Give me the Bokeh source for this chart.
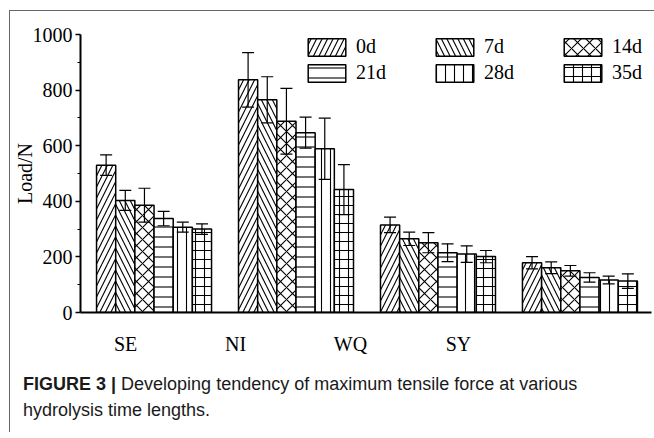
from bokeh.plotting import figure
from bokeh.layouts import column
from bokeh.models import (Range1d, FixedTicker, Whisker, ColumnDataSource, Legend,
                          LegendItem, TeeHead, CustomJSTickFormatter, Div)
from bokeh.embed import file_html
from bokeh.resources import INLINE

groups = ["SE", "NI", "WQ", "SY"]
series = ["0d", "7d", "14d", "21d", "28d", "35d"]

load_0d = [530, 837, 315, 179]
load_7d = [403, 765, 265, 161]
load_14d = [386, 688, 251, 150]
load_21d = [338, 647, 215, 126]
load_28d = [307, 589, 210, 117]
load_35d = [300, 442, 201, 113]

err_0d = [37, 98, 28, 22]
err_7d = [36, 83, 24, 21]
err_14d = [61, 118, 36, 19]
err_21d = [26, 56, 32, 17]
err_28d = [18, 110, 30, 14]
err_35d = [19, 90, 22, 26]

# positions of the category labels on the axis (as drawn in the original)
label_pos = [-0.20, 0.574, 1.384, 2.144]
y_ticks = [0, 200, 400, 600, 800, 1000]
y_minor = [100, 300, 500, 700, 900]

caption_bold = "FIGURE 3 |"
caption_line1 = "Developing tendency of maximum tensile force at various"
caption_line2 = "hydrolysis time lengths."

loads = [load_0d, load_7d, load_14d, load_21d, load_28d, load_35d]
errs = [err_0d, err_7d, err_14d, err_21d, err_28d, err_35d]
patterns = ["right_diagonal_line", "left_diagonal_line", "diagonal_cross",
            "horizontal_line", "vertical_line", "cross"]
scales = [11, 11, 12, 10, 9, 9]

SERIF = "Liberation Serif"
SANS = "Liberation Sans"

p = figure(width=644, height=354, output_backend="svg", toolbar_location=None,
           x_range=Range1d(-0.518, 3.504), y_range=Range1d(0, 1000),
           min_border_left=70, min_border_top=23, min_border_bottom=53,
           min_border_right=3)
p.outline_line_color = None
p.xgrid.visible = False
p.ygrid.visible = False
p.background_fill_color = "white"
p.border_fill_color = "white"

bar_w = 0.135
items = []
for k, (name, vals, ev, pat, sc) in enumerate(zip(series, loads, errs, patterns, scales)):
    xs = [i + (k - 2.5) * bar_w for i in range(len(groups))]
    src = ColumnDataSource(dict(x=xs, top=vals,
                                upper=[v + e for v, e in zip(vals, ev)],
                                lower=[v - e for v, e in zip(vals, ev)]))
    r = p.vbar(x="x", top="top", width=bar_w, bottom=0, source=src,
               fill_color="white", line_color="black", line_width=1.5,
               hatch_pattern=pat, hatch_color="black", hatch_weight=1.1,
               hatch_scale=sc)
    w = Whisker(base="x", upper="upper", lower="lower", source=src,
                line_color="black", line_width=1.2, level="annotation",
                upper_head=TeeHead(size=12, line_width=1.2, line_color="black"),
                lower_head=TeeHead(size=12, line_width=1.2, line_color="black"))
    p.add_layout(w)
    items.append(LegendItem(label=name, renderers=[r]))

legend = Legend(items=items, location=(223, 228), orientation="horizontal", ncols=3,
                glyph_width=47, glyph_height=22, label_standoff=6, label_width=72,
                label_height=22, spacing=3, padding=0, margin=0,
                border_line_color=None, background_fill_alpha=0,
                label_text_font=SERIF, label_text_font_size="20px",
                label_text_color="black")
p.add_layout(legend, "center")

# y axis
ya = p.yaxis[0]
ya.ticker = FixedTicker(ticks=y_ticks, minor_ticks=y_minor)
ya.axis_line_width = 2
ya.axis_line_color = "black"
ya.major_tick_in = 0
ya.major_tick_out = 5
ya.minor_tick_in = 0
ya.minor_tick_out = 3
ya.major_tick_line_width = 1.5
ya.minor_tick_line_width = 1.2
ya.major_tick_line_color = "black"
ya.minor_tick_line_color = "black"
ya.major_label_text_font = SERIF
ya.major_label_text_font_size = "20px"
ya.major_label_text_color = "black"
ya.major_label_standoff = 3
ya.axis_label = "Load/N"
ya.axis_label_text_font = SERIF
ya.axis_label_text_font_size = "20px"
ya.axis_label_text_font_style = "normal"
ya.axis_label_text_color = "black"
ya.axis_label_standoff = -6

# x axis
xa = p.xaxis[0]
xa.ticker = FixedTicker(ticks=label_pos)
xa.formatter = CustomJSTickFormatter(args=dict(labels=groups), code="return labels[index]")
xa.axis_line_width = 2
xa.axis_line_color = "black"
xa.major_tick_line_color = None
xa.minor_tick_line_color = None
xa.major_label_text_font = SERIF
xa.major_label_text_font_size = "20px"
xa.major_label_text_color = "black"
xa.major_label_standoff = 14

cap = Div(width=632, height=57,
          text=(f'<div style="font-family:\'{SANS}\';font-size:18px;line-height:26px;'
                f'color:#1a1a1a;padding-top:1px;padding-left:8px;white-space:nowrap">'
                f'<b>{caption_bold}</b> {caption_line1}<br>{caption_line2}</div>'))

layout = column(p, cap, spacing=0)
layout.styles = {"margin-left": "9px", "margin-top": "10px",
                 "border-left": "1px solid #666", "border-top": "1px solid #666"}

open("out.html", "w").write(file_html(layout, INLINE))
